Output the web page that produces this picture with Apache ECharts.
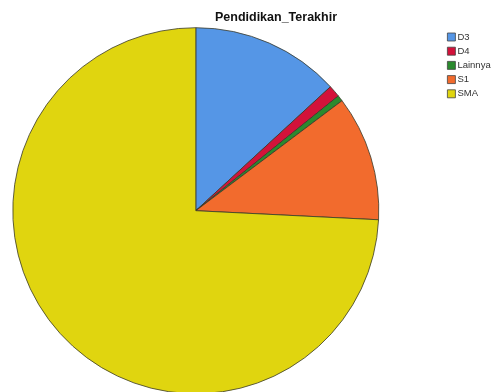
<!DOCTYPE html>
<html>
<head>
<meta charset="utf-8">
<script src="https://cdn.jsdelivr.net/npm/echarts@6/dist/echarts.min.js"></script>
<style>
  html, body { margin: 0; padding: 0; background: #fff; }
  #chart { width: 496px; height: 392px; }
</style>
</head>
<body>
<div id="chart"></div>
<script>
// Education level categories and respondent counts
const categories = ['D3', 'D4', 'Lainnya', 'S1', 'SMA'];
const counts = [25, 2, 1, 21, 141];
const colors = ['#5596e6', '#d3123a', '#2a8a2e', '#f26b2d', '#e0d50f'];

const chart = echarts.init(document.getElementById('chart'), null, { renderer: 'canvas' });

chart.setOption({
  animation: false,
  title: {
    text: 'Pendidikan_Terakhir',
    left: 276,
    textAlign: 'center',
    top: 11,
    padding: 0,
    textStyle: { fontFamily: 'Liberation Sans', fontSize: 12.5, fontWeight: 'bold', color: '#111' }
  },
  legend: {
    orient: 'vertical',
    left: 447,
    top: 32,
    padding: 0,
    itemWidth: 8,
    itemHeight: 8,
    itemGap: 4.2,
    icon: 'rect',
    selectedMode: false,
    textStyle: { fontFamily: 'Liberation Sans', fontSize: 9.5, lineHeight: 8, color: '#333', padding: [0, 0, 0, -3] },
    itemStyle: { borderColor: '#444', borderWidth: 0.8 },
    data: categories
  },
  series: [{
    type: 'pie',
    center: [195.8, 210.7],
    radius: 183,
    startAngle: 90,
    clockwise: true,
    label: { show: false },
    labelLine: { show: false },
    emphasis: { disabled: true },
    itemStyle: { borderColor: '#3a3a2a', borderWidth: 0.8 },
    data: categories.map((name, i) => ({
      name: name,
      value: counts[i],
      itemStyle: { color: colors[i] }
    }))
  }]
});
</script>
</body>
</html>
